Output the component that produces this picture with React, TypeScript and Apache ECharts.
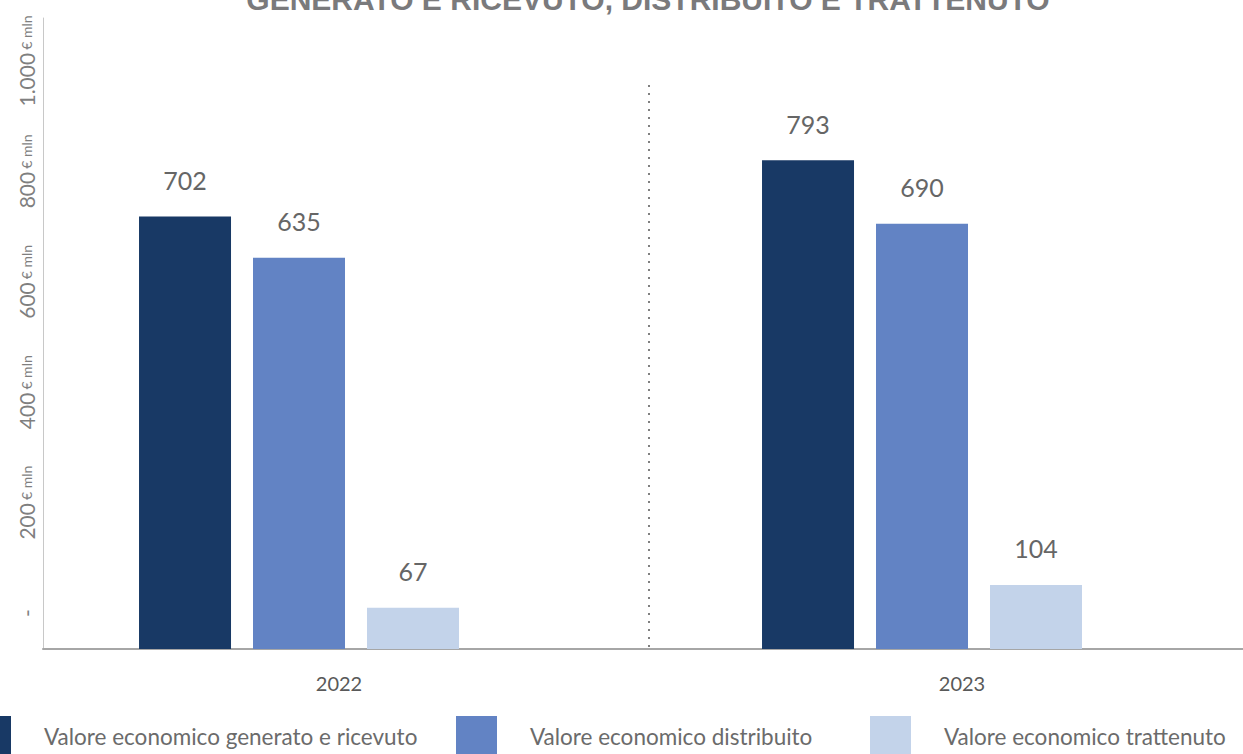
import React, { useEffect, useRef } from "react";
import * as echarts from "echarts";

const categories = ["2022", "2023"];
const seriesNames = [
  "Valore economico generato e ricevuto",
  "Valore economico distribuito",
  "Valore economico trattenuto",
];
const generato = [702, 793];
const distribuito = [635, 690];
const trattenuto = [67, 104];
const yTickValues = [0, 200, 400, 600, 800, 1000];
const colors = ["#183965", "#6283C4", "#C3D3EA"];
const title = "GENERATO E RICEVUTO, DISTRIBUITO E TRATTENUTO";

const FONT = "Lato, 'Noto Sans', sans-serif";

export default function App() {
  const ref = useRef<HTMLDivElement>(null);
  useEffect(() => {
    document.body.style.margin = "0";
    if (!ref.current) return;
    const chart = echarts.init(ref.current, null, { renderer: "svg" });
    const barCommon = {
      type: "bar",
      barWidth: 92,
      barGap: "23.9%",
      label: {
        show: true,
        position: "top",
        distance: 24,
        fontSize: 25,
        color: "#666666",
        fontFamily: FONT,
      },
    };
    const valuesList = [generato, distribuito, trattenuto];
    const series: any[] = seriesNames.map((name, i) => ({
      ...barCommon,
      name,
      data: valuesList[i],
      itemStyle: { color: colors[i] },
    }));
    series.push({
      type: "bar",
      name: "spacer",
      barWidth: 89,
      barGap: "23.9%",
      data: [null, null],
      itemStyle: { color: "transparent" },
      silent: true,
      label: { show: false },
    });
    const legendLefts = [-30, 456, 870];
    const option: any = {
      animation: false,
      grid: {
        left: 43,
        top: 18,
        width: 1246,
        height: 631,
        containLabel: false,
        outerBoundsMode: "none",
      },
      xAxis: {
        type: "category",
        data: categories,
        axisLine: { show: true, lineStyle: { color: "#a6a6a6", width: 2 } },
        axisTick: { show: false },
        axisLabel: {
          fontSize: 20,
          color: "#595959",
          fontFamily: FONT,
          margin: 24,
          padding: [0, 31, 0, 0],
        },
      },
      yAxis: [
        {
          type: "value",
          min: 0,
          max: 1024,
          axisLine: { show: true, lineStyle: { color: "#c8c8c8", width: 1 } },
          axisTick: { show: false },
          axisLabel: { show: false },
          splitLine: { show: false },
        },
        {
          type: "value",
          position: "left",
          min: -65.2,
          max: 1077.9,
          axisLine: { show: false },
          axisTick: { show: false },
          splitLine: { show: false },
          axisLabel: {
            show: true,
            rotate: 90,
            margin: 6,
            customValues: yTickValues,
            color: "#7f7f7f",
            fontFamily: FONT,
            formatter: (v: number) => {
              if (v === 0) return "{a|-}";
              const s =
                v >= 1000
                  ? Math.floor(v / 1000) + "." + String(v % 1000).padStart(3, "0")
                  : String(v);
              return "{a|" + s + "} {b|€ mln}";
            },
            rich: {
              a: { fontSize: 21, color: "#7f7f7f", fontFamily: FONT },
              b: { fontSize: 14, color: "#7f7f7f", fontFamily: FONT },
            },
          },
        },
      ],
      legend: seriesNames.map((name, i) => ({
        data: [name],
        left: legendLefts[i],
        top: 716,
        padding: 0,
        itemWidth: 41,
        itemHeight: 41,
        icon: "rect",
        selectedMode: false,
        textStyle: {
          fontSize: 22.5,
          color: "#6b6b6b",
          fontFamily: FONT,
          padding: [0, 0, 0, 28],
        },
      })),
      graphic: [
        {
          type: "text",
          x: 648,
          y: -1,
          style: {
            text: title,
            font: "bold 30px 'Liberation Sans', Arial, sans-serif",
            fill: "#7a7a7c",
            textAlign: "center",
            textVerticalAlign: "middle",
          },
        },
        {
          type: "line",
          shape: { x1: 649, y1: 85, x2: 649, y2: 649 },
          style: { stroke: "#808080", lineWidth: 2, lineDash: [2, 6] },
          silent: true,
        },
      ],
      series,
    };
    chart.setOption(option);
    return () => chart.dispose();
  }, []);
  return <div ref={ref} style={{ width: 1243, height: 754 }} />;
}
